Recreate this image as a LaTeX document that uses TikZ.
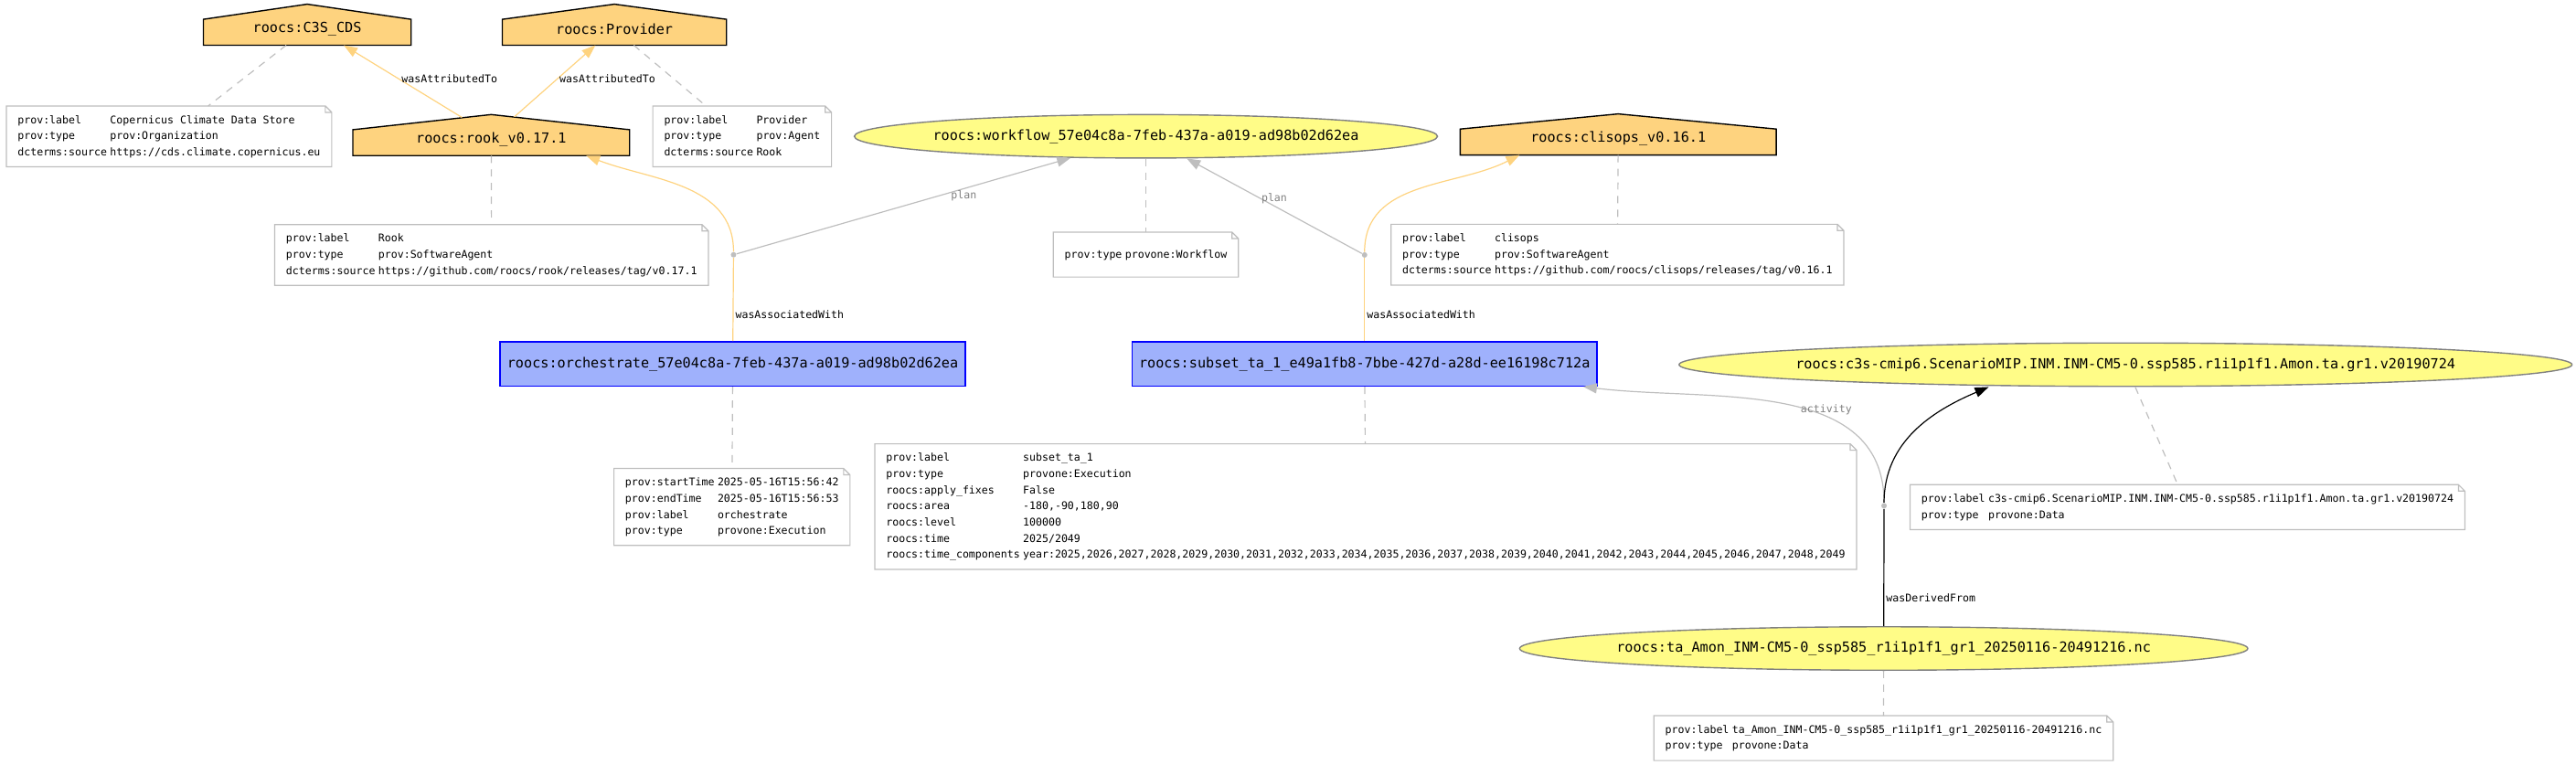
\documentclass[tikz,border=0pt]{standalone}
\usepackage{fontspec}
\usepackage{tikz}
\usetikzlibrary{shapes.geometric, arrows.meta, backgrounds}
\newfontfamily\provfont{DejaVu Sans Mono}
\definecolor{ProvAgent}{HTML}{FED37F}
\definecolor{ProvActivity}{HTML}{9FB1FC}
\definecolor{ProvActLine}{HTML}{0000FF}
\definecolor{ProvEntity}{HTML}{FFFC87}
\definecolor{ProvEntLine}{HTML}{808080}
\definecolor{ProvGray}{HTML}{BEBEBE}
\newcommand{\nodefont}{\provfont\fontsize{7.6}{9}\selectfont}
\newcommand{\notefont}{\provfont\fontsize{5.8}{8.85}\selectfont}

\begin{document}
\begin{tikzpicture}[x=0.9pt, y=0.9pt,
      agent/.style={rectangle, minimum height=17.5pt, inner sep=0pt, font=\nodefont},
      activity/.style={rectangle, draw=ProvActLine, fill=ProvActivity, line width=0.7pt,
                       minimum width=254.8pt, minimum height=24.3pt, inner sep=0pt, font=\nodefont},
      entity/.style={ellipse, draw=ProvEntLine, fill=ProvEntity, line width=0.7pt,
                     minimum height=23.8pt, inner xsep=-40pt, inner ysep=0pt, font=\nodefont},
      note/.style={rectangle, fill=white, inner xsep=6pt, inner ysep=3.2pt,
                   minimum height=24.2pt, font=\notefont},
      auxdot/.style={circle, fill=ProvGray, inner sep=0pt, minimum size=3pt},
      annot/.style={ProvGray, line width=0.6pt, dash pattern=on 4pt off 3.5pt},
      arr/.style={line width=0.6pt, -{Triangle[length=7.5pt, width=5.5pt]}},
      lbl/.style={font=\notefont, inner sep=1pt, text=black},
      glbl/.style={font=\notefont, inner sep=1pt, text=gray}
    ]
    \useasboundingbox (0,0) rectangle (1568,-465.7);

    % agents
    \node[agent, minimum width=113.4pt] (c3scds)   at (187,-17.6) {roocs:C3S\_CDS};
    \node[agent, minimum width=122.4pt] (provider) at (374,-17.6) {roocs:Provider};
    \node[agent, minimum width=151.2pt] (rook)     at (299,-84.8) {roocs:rook\_v0.17.1};
    \node[agent, minimum width=172.8pt] (clisops)  at (985,-84.4) {roocs:clisops\_v0.16.1};

    % activities and entities
    \node[entity, minimum width=319.5pt] (workflow) at (697.5,-83)
          {roocs:workflow\_57e04c8a-7feb-437a-a019-ad98b02d62ea};
    \node[activity] (orch)   at (446,-221.5)
          {roocs:orchestrate\_57e04c8a-7feb-437a-a019-ad98b02d62ea};
    \node[activity] (subset) at (830.6,-221.5)
          {roocs:subset\_ta\_1\_e49a1fb8-7bbe-427d-a28d-ee16198c712a};
    \node[entity, minimum width=489.2pt] (c3sdata) at (1293.8,-222)
          {roocs:c3s-cmip6.ScenarioMIP.INM.INM-CM5-0.ssp585.r1i1p1f1.Amon.ta.gr1.v20190724};
    \node[entity, minimum width=398.9pt] (tafile) at (1146.6,-394.8)
          {roocs:ta\_Amon\_INM-CM5-0\_ssp585\_r1i1p1f1\_gr1\_20250116-20491216.nc};

    \node[auxdot] (assocA) at (446.5,-155.1) {};
    \node[auxdot] (assocB) at (830.6,-155.2) {};
    \node[auxdot] (derv)   at (1146.8,-307.9) {};

    % notes
    \node[note] (c3snote) at (102.9,-83.05) {\begin{tabular}{@{}l@{\hspace{1.7pt}}l@{}}
        prov:label & Copernicus Climate Data Store\\
        prov:type & prov:Organization\\
        dcterms:source & https://cds.climate.copernicus.eu\end{tabular}};
    \node[note] (provnote) at (451.75,-83.05) {\begin{tabular}{@{}l@{\hspace{1.7pt}}l@{}}
        prov:label & Provider\\
        prov:type & prov:Agent\\
        dcterms:source & Rook\end{tabular}};
    \node[note] (rooknote) at (299.2,-155.25) {\begin{tabular}{@{}l@{\hspace{1.7pt}}l@{}}
        prov:label & Rook\\
        prov:type & prov:SoftwareAgent\\
        dcterms:source & https://github.com/roocs/rook/releases/tag/v0.17.1\end{tabular}};
    \node[note] (wfnote) at (697.5,-155) {\begin{tabular}{@{}l@{\hspace{1.7pt}}l@{}}
        prov:type & provone:Workflow\end{tabular}};
    \node[note] (clinote) at (984.5,-155.05) {\begin{tabular}{@{}l@{\hspace{1.7pt}}l@{}}
        prov:label & clisops\\
        prov:type & prov:SoftwareAgent\\
        dcterms:source & https://github.com/roocs/clisops/releases/tag/v0.16.1\end{tabular}};
    \node[note] (orchnote) at (445.55,-308.65) {\begin{tabular}{@{}l@{\hspace{1.7pt}}l@{}}
        prov:startTime & 2025-05-16T15:56:42\\
        prov:endTime & 2025-05-16T15:56:53\\
        prov:label & orchestrate\\
        prov:type & provone:Execution\end{tabular}};
    \node[note] (subnote) at (831.3,-308.4) {\begin{tabular}{@{}l@{\hspace{1.7pt}}l@{}}
        prov:label & subset\_ta\_1\\
        prov:type & provone:Execution\\
        roocs:apply\_fixes & False\\
        roocs:area & -180,-90,180,90\\
        roocs:level & 100000\\
        roocs:time & 2025/2049\\
        roocs:time\_components & year:2025,2026,2027,2028,2029,2030,2031,2032,2033,2034,2035,2036,2037,2038,2039,2040,2041,2042,2043,2044,2045,2046,2047,2048,2049\end{tabular}};
    \node[note] (c3snote2) at (1331.5,-308.75) {\begin{tabular}{@{}l@{\hspace{1.7pt}}l@{}}
        prov:label & c3s-cmip6.ScenarioMIP.INM.INM-CM5-0.ssp585.r1i1p1f1.Amon.ta.gr1.v20190724\\
        prov:type & provone:Data\end{tabular}};
    \node[note] (tanote) at (1146.5,-449.35) {\begin{tabular}{@{}l@{\hspace{1.7pt}}l@{}}
        prov:label & ta\_Amon\_INM-CM5-0\_ssp585\_r1i1p1f1\_gr1\_20250116-20491216.nc\\
        prov:type & provone:Data\end{tabular}};

    % house outlines behind the agent labels
    \begin{scope}[on background layer]
      \foreach \n in {c3scds, provider, rook, clisops}
        \filldraw[fill=ProvAgent, draw=black, line width=0.7pt]
          ([yshift=-3.7pt]\n.north west) -- ([yshift=4.6pt]\n.north)
          -- ([yshift=-3.7pt]\n.north east) -- (\n.south east) -- (\n.south west) -- cycle;
    \end{scope}

    % note outlines with folded corner
    \foreach \n in {c3snote, provnote, rooknote, wfnote, clinote, orchnote, subnote, c3snote2, tanote}
      \draw[ProvGray, line width=0.6pt] (\n.north west) -- ([xshift=-3.5pt]\n.north east)
        -- ([yshift=-3.5pt]\n.north east) -- (\n.south east) -- (\n.south west) -- cycle
        ([xshift=-3.5pt]\n.north east) |- ([yshift=-3.5pt]\n.north east);

    % annotation links
    \draw[annot] (c3scds)   -- (c3snote);
    \draw[annot] (provider) -- (provnote);
    \draw[annot] (rook)     -- (rooknote);
    \draw[annot] (workflow) -- (wfnote);
    \draw[annot] (clisops)  -- (clinote);
    \draw[annot] (orch)     -- (orchnote);
    \draw[annot] (subset)   -- (subnote);
    \draw[annot] (c3sdata)  -- (c3snote2);
    \draw[annot] (tafile)   -- (tanote);

    % attribution
    \draw[arr, ProvAgent] ([xshift=-16pt, yshift=3pt]rook.north)
          -- node[lbl, right, pos=0.53]{wasAttributedTo} ([xshift=20pt]c3scds.south);
    \draw[arr, ProvAgent] ([xshift=12.6pt, yshift=3.3pt]rook.north)
          -- node[lbl, right, pos=0.53]{wasAttributedTo} ([xshift=-10.4pt]provider.south);

    % association with plan
    \draw[line width=0.6pt, ProvAgent] (orch) -- node[lbl, right, pos=0.32]{wasAssociatedWith} (assocA);
    \draw[arr, ProvAgent] (assocA) to[out=90, in=-21] ([xshift=52pt]rook.south);
    \draw[arr, ProvGray]  (assocA) -- node[glbl, below, pos=0.68]{plan} (workflow);
    \draw[line width=0.6pt, ProvAgent] (subset) -- node[lbl, right, pos=0.32]{wasAssociatedWith} (assocB);
    \draw[arr, ProvAgent] (assocB) to[out=90, in=207] ([xshift=-54pt]clisops.south);
    \draw[arr, ProvGray]  (assocB) -- node[glbl, above, pos=0.5]{plan} (workflow);

    % derivation
    \draw[line width=0.6pt] (tafile) -- node[lbl, right, pos=0.24]{wasDerivedFrom} (derv);
    \draw[arr, ProvGray] (derv) to[out=90, in=-7]
          node[glbl, above, pos=0.36, inner sep=0.5pt]{activity} ([xshift=-8pt]subset.south east);
    \draw[arr] (derv) to[out=90, in=203] ([xshift=-75pt]c3sdata.south);
  \end{tikzpicture}
\end{document}
